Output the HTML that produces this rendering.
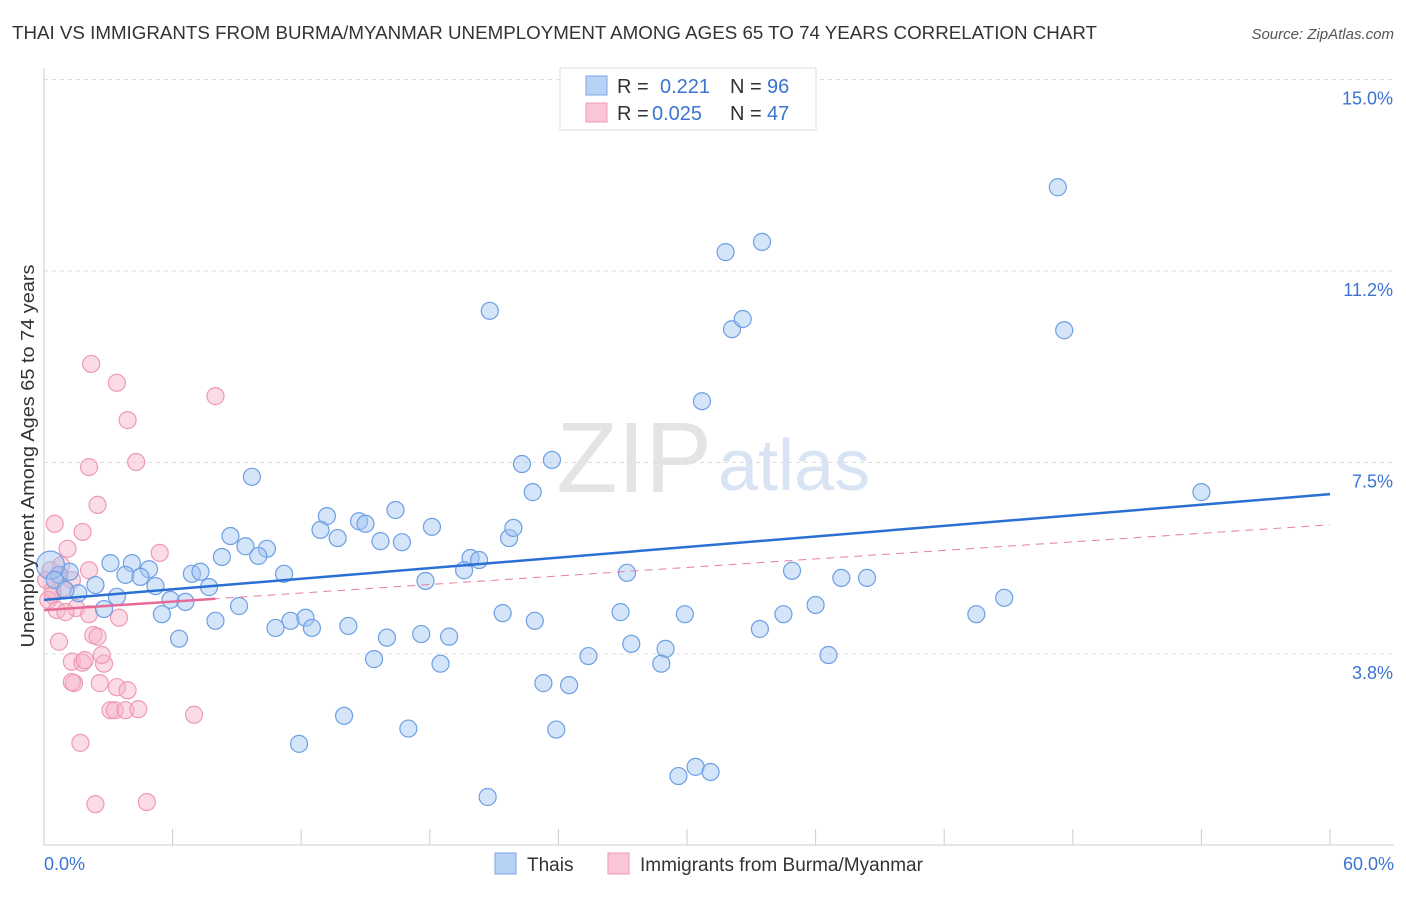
<!DOCTYPE html>
<html><head><meta charset="utf-8"><style>
body{margin:0;background:#fff;font-family:"Liberation Sans",sans-serif;}
svg text{font-family:"Liberation Sans",sans-serif;}
</style></head><body>
<svg id="chart" width="1406" height="892" xmlns="http://www.w3.org/2000/svg">
<text x="12" y="39" font-size="18" fill="#333" textLength="1085" lengthAdjust="spacingAndGlyphs">THAI VS IMMIGRANTS FROM BURMA/MYANMAR UNEMPLOYMENT AMONG AGES 65 TO 74 YEARS CORRELATION CHART</text>
<text x="1394" y="39" font-size="15" fill="#555" text-anchor="end" font-style="italic">Source: ZipAtlas.com</text>
<text x="712" y="492" font-size="100" fill="#e4e4e4" font-family="Liberation Serif" text-anchor="end">ZIP</text>
<text x="718" y="490" font-size="72" fill="#d8e4f4">atlas</text>
<g id="grid"></g><g id="marks"></g>
<text transform="translate(34,456) rotate(-90)" font-size="18" fill="#333" text-anchor="middle" textLength="383" lengthAdjust="spacingAndGlyphs">Unemployment Among Ages 65 to 74 years</text>
<g>
<rect x="560" y="68" width="256" height="62" fill="#fff" stroke="#ddd"/>
<rect x="586" y="76" width="21" height="19" fill="#b8d2f5" stroke="#7aa6e6"/>
<rect x="586" y="103" width="21" height="19" fill="#f9c6d5" stroke="#ee9ab5"/>
<text x="617" y="93" font-size="20" fill="#333">R =</text>
<text x="660" y="93" font-size="20" fill="#3a74d0">0.221</text>
<text x="730" y="93" font-size="20" fill="#333">N =</text>
<text x="767" y="93" font-size="20" fill="#3a74d0">96</text>
<text x="617" y="120" font-size="20" fill="#333">R =</text>
<text x="652" y="120" font-size="20" fill="#3a74d0">0.025</text>
<text x="730" y="120" font-size="20" fill="#333">N =</text>
<text x="767" y="120" font-size="20" fill="#3a74d0">47</text>
</g>
<g>
<rect x="495" y="853" width="21" height="21" fill="#b8d2f5" stroke="#7aa6e6"/>
<text x="527" y="871" font-size="19" fill="#333">Thais</text>
<rect x="608" y="853" width="21" height="21" fill="#f9c6d5" stroke="#ee9ab5"/>
<text x="640" y="871" font-size="19" fill="#333">Immigrants from Burma/Myanmar</text>
</g>
</svg>
<script>
const yTicks=[3.75,7.5,11.25,15];
const yTickLabels=["3.8%","7.5%","11.2%","15.0%"];
const xLabels=["0.0%","60.0%"];
const thaiX=[47.3,31.8,33.5,20.8,32.1,32.6,47.6,30.7,9.7,22.3,23.7,22.8,54.0,13.2,16.4,18.1,14.7,15.0,12.9,13.7,15.7,16.7,21.7,21.9,8.7,9.4,10.4,10.0,8.3,19.9,20.3,3.1,4.1,4.9,3.8,4.5,6.9,7.3,11.2,17.8,19.6,27.2,34.9,37.2,38.4,2.4,5.2,7.7,3.4,5.9,6.6,2.8,9.1,5.5,21.4,26.9,29.9,34.5,36.0,43.5,44.8,22.9,8.0,11.5,12.2,12.5,10.8,14.2,17.6,16.0,18.9,6.3,27.4,29.0,33.4,15.4,18.5,25.4,28.8,36.6,23.3,24.5,14.0,17.0,23.9,11.9,30.4,31.1,29.6,20.7,0.7,1.2,1.6,0.3,0.5,1.0];
const thaiY=[12.89,11.62,11.82,10.47,10.11,10.31,10.09,8.70,7.22,7.47,7.55,6.92,6.92,6.45,6.57,6.24,6.35,6.30,6.18,6.02,5.96,5.94,6.02,6.22,6.06,5.86,5.81,5.67,5.65,5.63,5.59,5.53,5.53,5.41,5.30,5.26,5.32,5.36,5.32,5.18,5.39,5.34,5.38,5.24,5.24,5.10,5.08,5.06,4.87,4.81,4.77,4.63,4.69,4.53,4.55,4.57,4.53,4.53,4.71,4.53,4.85,4.40,4.40,4.40,4.46,4.26,4.26,4.30,4.14,4.07,4.09,4.05,3.95,3.85,4.24,3.65,3.56,3.71,3.56,3.73,3.18,3.14,2.54,2.29,2.27,1.99,1.54,1.44,1.36,0.95,5.30,5.36,4.94,5.49,5.20,5.00];
const burmaX=[2.2,3.4,8.0,3.9,2.1,4.3,2.5,0.5,1.8,1.1,5.4,0.3,0.7,2.1,1.3,0.9,0.4,0.2,0.6,1.5,2.1,3.5,1.0,2.3,2.5,0.7,1.3,1.8,2.8,2.7,1.4,1.3,2.6,3.4,3.9,3.1,3.3,3.8,4.4,7.0,1.7,2.4,4.8,0.4,0.8,0.1,1.9];
const burmaY=[9.43,9.06,8.80,8.33,7.41,7.51,6.67,6.30,6.14,5.81,5.73,5.39,5.30,5.39,5.20,5.04,4.90,4.81,4.61,4.65,4.53,4.46,4.57,4.12,4.09,3.99,3.60,3.58,3.56,3.73,3.18,3.20,3.18,3.10,3.04,2.65,2.65,2.65,2.67,2.56,2.01,0.81,0.85,5.00,5.49,5.20,3.63];
const thaiTrend=[4.81,6.88];
const burmaTrend=[4.61,6.28];
const burmaSolidEnd=8.0;
const NS="http://www.w3.org/2000/svg";
const X=v=>44+v/60*1286, Y=v=>845.5-v/3.75*191.5;
function mk(t,a,p){const e=document.createElementNS(NS,t);for(const k in a)e.setAttribute(k,a[k]);p.appendChild(e);return e;}
const g=document.getElementById('grid'),m=document.getElementById('marks');
yTicks.forEach((t,i)=>{
 const l=mk('line',{x1:44,x2:1394,y1:Y(t),y2:Y(t),stroke:'#ddd','stroke-dasharray':'4,4'},g);
 
 
 const tx=mk('text',{x:1393,y:Y(t)+25,'font-size':18,fill:'#3a74d0','text-anchor':'end'},g);
 tx.textContent=yTickLabels[i];
 
 
});
const ax=mk('line',{x1:44,x2:1394,y1:845,y2:845,stroke:'#ccc'},g);


const ay=mk('line',{x1:44,x2:44,y1:68,y2:845,stroke:'#ccc'},g);


for(let i=0;i<=10;i++){const t=mk('line',{x1:X(i*6),x2:X(i*6),y1:829,y2:845,stroke:'#ccc'},g);
 
 }
[[0,'start',44],[60,'end',1394]].forEach((d,i)=>{const t=mk('text',{x:d[2],y:870,'font-size':18,fill:'#3a74d0','text-anchor':d[1]},g);t.textContent=xLabels[i];
 
 });
burmaX.forEach((v,i)=>{const c=mk('circle',{cx:X(v),cy:Y(burmaY[i]),r:8.5,fill:'rgba(246,178,200,0.45)',stroke:'#ee9ab5','stroke-width':1.2},m);
 
 });
thaiX.forEach((v,i)=>{const c=mk('circle',{cx:X(v),cy:Y(thaiY[i]),r:(i==93?14:8.5),fill:'rgba(160,196,242,0.45)',stroke:'#6e9fe2','stroke-width':1.2},m);
 
 });
const bl=mk('line',{x1:X(0),y1:Y(thaiTrend[0]),x2:X(60),y2:Y(thaiTrend[1]),stroke:'#2a6fd4','stroke-width':2.5},m);


const by=v=>burmaTrend[0]+(burmaTrend[1]-burmaTrend[0])*v/60;
const pd=mk('line',{x1:X(0),y1:Y(burmaTrend[0]),x2:X(60),y2:Y(burmaTrend[1]),stroke:'#e77fa3','stroke-width':1,'stroke-dasharray':'8,6'},m);


const ps=mk('line',{x1:X(0),y1:Y(burmaTrend[0]),x2:X(burmaSolidEnd),y2:Y(by(burmaSolidEnd)),stroke:'#e76a96','stroke-width':2.5},m);


</script>
</body></html>
